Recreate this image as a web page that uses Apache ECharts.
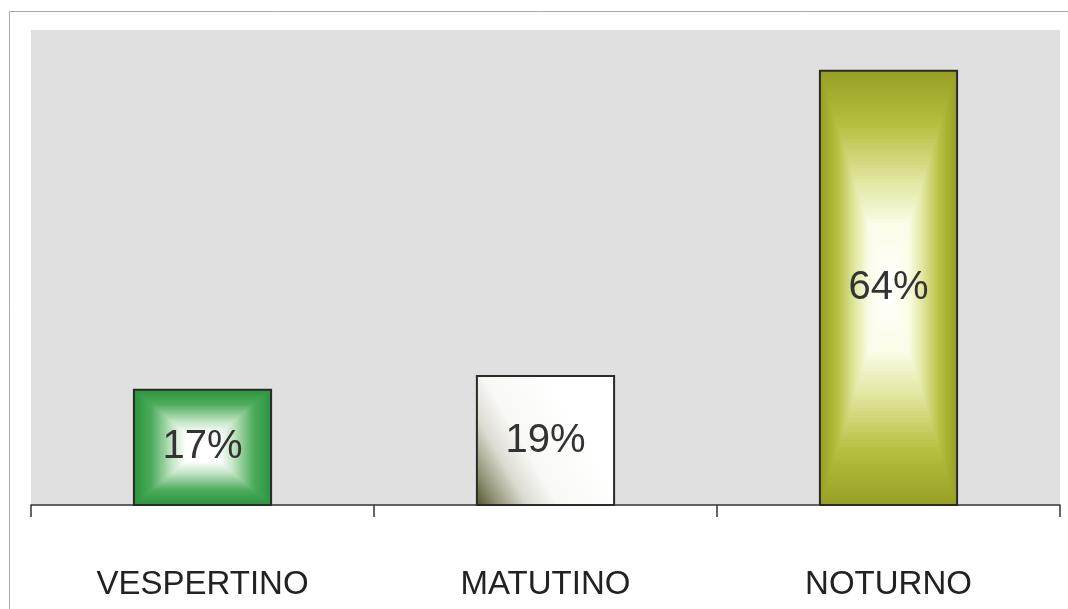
<!DOCTYPE html>
<html>
<head>
<meta charset="utf-8">
<script src="https://cdn.jsdelivr.net/npm/echarts@6/dist/echarts.min.js"></script>
<style>html,body{margin:0;padding:0;background:#fff}#c{width:1068px;height:609px}</style>
</head>
<body>
<div id="c"></div>
<script>
const categories = ['VESPERTINO', 'MATUTINO', 'NOTURNO'];
const values = [17, 19, 64];
const valueLabels = ['17%', '19%', '64%'];
const yMax = 70;

// fill styles per bar (path gradient: edge -> centre)
const fills = [
  {type: 'path', stops: [[0, [44, 148, 62]], [0.25, [78, 172, 92]], [0.55, [196, 230, 198]], [0.75, [255, 255, 255]], [1, [255, 255, 255]]]},
  {type: 'corner'},
  {type: 'path', stops: [[0, [150, 160, 34]], [0.25, [184, 192, 66]], [0.5, [226, 230, 160]], [0.7, [252, 252, 232]], [1, [255, 255, 255]]]}
];

function interp(stops, t) {
  for (let i = 1; i < stops.length; i++) {
    if (t <= stops[i][0]) {
      const a = stops[i - 1], b = stops[i];
      const f = (t - a[0]) / (b[0] - a[0] || 1);
      const c = a[1].map((v, k) => Math.round(v + (b[1][k] - v) * f));
      return 'rgb(' + c.join(',') + ')';
    }
  }
  const l = stops[stops.length - 1][1];
  return 'rgb(' + l.join(',') + ')';
}

const chart = echarts.init(document.getElementById('c'), null, {renderer: 'canvas'});

function renderItem(params, api) {
  const idx = api.value(0);
  const v = api.value(1);
  const top = api.coord([idx, v]);
  const base = api.coord([idx, 0]);
  const bw = api.size([1, 0])[0] * 0.4;
  const x = top[0] - bw / 2, y = top[1], w = bw, h = base[1] - top[1];
  const cx = x + w / 2, cy = y + h / 2;
  const children = [];
  const f = fills[idx];
  if (f.type === 'path') {
    const n = 60;
    for (let k = 0; k < n; k++) {
      const t = k / n;
      const s = 1 - t;
      children.push({
        type: 'rect',
        shape: {x: cx - w * s / 2, y: cy - h * s / 2, width: w * s, height: h * s},
        style: {fill: interp(f.stops, t)}
      });
    }
  } else {
    children.push({
      type: 'rect',
      shape: {x: x, y: y, width: w, height: h},
      style: {fill: new echarts.graphic.LinearGradient(0, 1, 0.8, 0.5, [
        {offset: 0, color: '#55552e'},
        {offset: 0.15, color: '#95957a'},
        {offset: 0.35, color: '#dcdcd2'},
        {offset: 0.55, color: '#f8f8f4'},
        {offset: 1, color: '#ffffff'}
      ])}
    });
  }
  children.push({
    type: 'rect',
    shape: {x: x, y: y, width: w, height: h},
    style: {fill: 'none', stroke: '#2a2a2a', lineWidth: 2}
  });
  children.push({
    type: 'text',
    style: {
      x: cx, y: cy, text: valueLabels[idx],
      align: 'center', verticalAlign: 'middle',
      font: '40px "Liberation Sans", Arial, sans-serif',
      fill: '#333333'
    }
  });
  return {type: 'group', children: children};
}

chart.setOption({
  animation: false,
  backgroundColor: '#ffffff',
  graphic: [{
    type: 'rect', silent: true, z: -10,
    shape: {x: 9.5, y: 11.5, width: 1100, height: 700},
    style: {fill: 'none', stroke: '#a8a8a8', lineWidth: 1}
  }],
  grid: {left: 31, right: 8, top: 30, bottom: 104, show: true, backgroundColor: '#e0e0e0', borderWidth: 0, containLabel: false},
  xAxis: {
    type: 'category',
    data: categories,
    axisLine: {show: true, lineStyle: {color: '#333', width: 1.5}},
    axisTick: {show: true, length: 12, lineStyle: {color: '#333', width: 1.5}},
    axisLabel: {fontSize: 33, color: '#222', fontFamily: '"Liberation Sans", Arial, sans-serif', margin: 63}
  },
  yAxis: {
    type: 'value', min: 0, max: yMax, interval: 10,
    show: false,
    splitLine: {show: false}
  },
  series: [{
    type: 'custom',
    renderItem: renderItem,
    data: values.map((v, i) => [i, v]),
    encode: {x: 0, y: 1}
  }]
});
</script>
</body>
</html>
